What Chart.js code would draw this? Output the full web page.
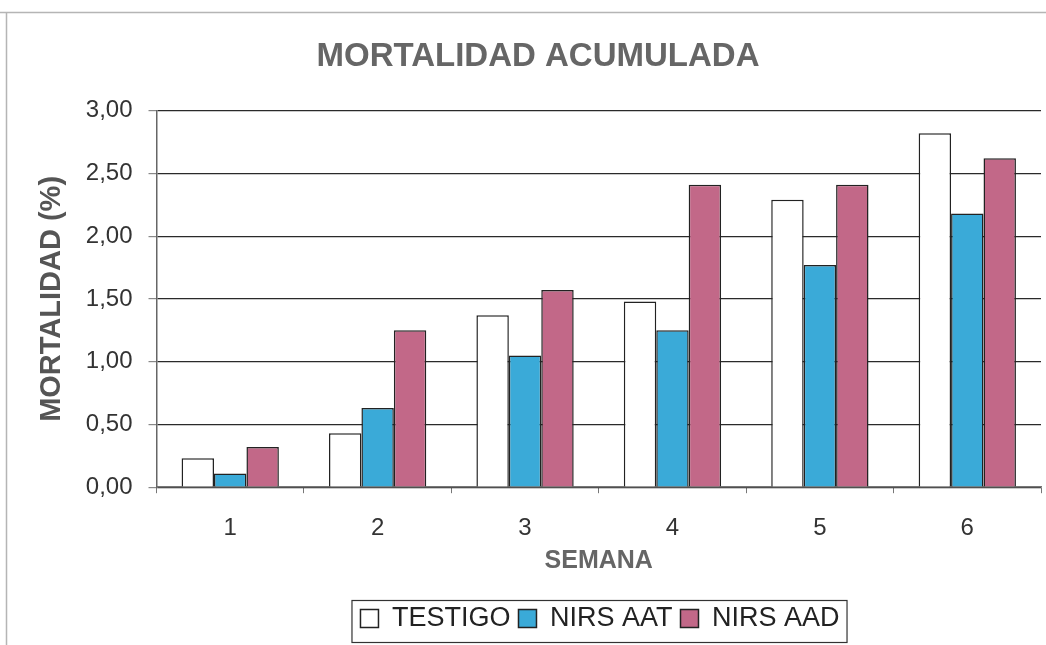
<!DOCTYPE html>
<html>
<head>
<meta charset="utf-8">
<script src="https://cdn.jsdelivr.net/npm/chart.js@4"></script>
<style>
  html, body { margin: 0; padding: 0; background: #fff; }
  #marco { width: 1046px; height: 645px; }
</style>
</head>
<body>
<div id="marco"><canvas id="Grafico" width="1046" height="645"></canvas></div>
<script>
//Datos del gráfico
const semanas = ['1', '2', '3', '4', '5', '6'];
const testigo = [0.23, 0.43, 1.37, 1.48, 2.29, 2.82];
const nirsAAT = [0.11, 0.63, 1.05, 1.25, 1.77, 2.18];
const nirsAAD = [0.32, 1.25, 1.57, 2.41, 2.41, 2.62];
const series = ['TESTIGO', 'NIRS AAT', 'NIRS AAD'];

//Marco de la hoja y caja de la leyenda
const marcoPlugin = {
  id: 'marco',
  afterLayout(chart) {
    //la leyenda está algo desplazada a la derecha en el original
    chart.legend.left += 62;
    chart.legend.right += 62;
  },
  beforeDraw(chart) {
    const c = chart.ctx;
    c.save();
    c.strokeStyle = '#b5b5b5';
    c.lineWidth = 1.5;
    c.beginPath();
    c.moveTo(0, 12.5); c.lineTo(1046, 12.5);
    c.moveTo(6.5, 12); c.lineTo(6.5, 645);
    c.stroke();
    c.restore();
  },
  afterDraw(chart) {
    const hb = chart.legend.legendHitBoxes;
    if (!hb || !hb.length) return;
    let izq = Math.min(...hb.map(h => h.left));
    let der = Math.max(...hb.map(h => h.left + h.width));
    const c = chart.ctx;
    c.save();
    c.strokeStyle = '#333';
    c.lineWidth = 1.2;
    c.strokeRect(izq - 8.5, 600.5, der - izq + 16, 42);
    c.restore();
  }
};

const contexto = document.getElementById('Grafico').getContext('2d');
const Grafico = new Chart(contexto, {
  type: 'bar',
  data: {
    labels: semanas,
    datasets: [
      { label: series[0], data: testigo, backgroundColor: '#ffffff' },
      { label: series[1], data: nirsAAT, backgroundColor: '#3aaad8' },
      { label: series[2], data: nirsAAD, backgroundColor: '#c26888' }
    ].map(d => Object.assign(d, { borderColor: '#222', borderWidth: 1.5, categoryPercentage: 0.66, barPercentage: 1 }))
  },
  plugins: [marcoPlugin],
  options: {
    responsive: false,
    animation: false,
    layout: { padding: { left: 35, right: 5, top: 0, bottom: 3 } },
    plugins: {
      title: {
        display: true,
        text: 'MORTALIDAD ACUMULADA',
        color: '#666',
        font: { family: 'Arial, "Liberation Sans"', size: 33, weight: 'bold' },
        padding: { top: 37, bottom: 34 }
      },
      legend: {
        position: 'bottom',
        labels: {
          color: '#222',
          font: { family: 'Arial, "Liberation Sans"', size: 27 },
          boxWidth: 18,
          boxHeight: 18,
          padding: 8
        }
      },
      tooltip: { enabled: false }
    },
    scales: {
      x: {
        grid: { drawOnChartArea: false, drawTicks: true, tickLength: 6, tickColor: '#777' },
        border: { color: '#777', width: 1.5 },
        ticks: { color: '#333', font: { family: 'Arial, "Liberation Sans"', size: 24 }, padding: 21 },
        title: {
          display: true,
          text: 'SEMANA',
          color: '#666',
          font: { family: 'Arial, "Liberation Sans"', size: 25, weight: 'bold' },
          padding: { top: -18, bottom: 21 }
        }
      },
      y: {
        min: 0,
        max: 3,
        grid: { color: '#2a2a2a', lineWidth: 1.2, tickLength: 8, tickColor: '#888' },
        border: { color: '#666', width: 1.5 },
        ticks: {
          stepSize: 0.5,
          color: '#333',
          font: { family: 'Arial, "Liberation Sans"', size: 24 },
          padding: 16,
          callback: v => v.toFixed(2).replace('.', ',')
        },
        title: {
          display: true,
          text: 'MORTALIDAD (%)',
          color: '#555',
          font: { family: 'Arial, "Liberation Sans"', size: 29, weight: 'bold' },
          padding: { top: 0, bottom: 0 }
        }
      }
    }
  }
});
</script>
</body>
</html>
